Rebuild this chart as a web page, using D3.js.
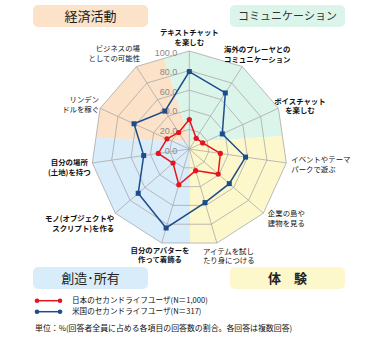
<!DOCTYPE html>
<html>
<head>
<meta charset="utf-8">
<script src="https://cdn.jsdelivr.net/npm/d3@7"></script>
<style>
  body { margin: 0; background: #fff; }
  svg { display: block; font-family: "Noto Sans CJK JP", sans-serif; }
</style>
</head>
<body>
<div id="chart"></div>
<script>
// axis labels, clockwise from the top
var categories = [
    ["テキストチャット", "を楽しむ"],
    ["海外のプレーヤとの", "コミュニケーション"],
    ["ボイスチャット", "を楽しむ"],
    ["イベントやテーマ", "パークで遊ぶ"],
    ["企業の島や", "建物を見る"],
    ["アイテムを試し", "たり身につける"],
    ["自分のアバターを", "作って着飾る"],
    ["モノ(オブジェクトや", "スクリプト)を作る"],
    ["自分の場所", "(土地)を持つ"],
    ["リンデン", "ドルを稼ぐ"],
    ["ビジネスの場", "としての可能性"]
];
var japan = [30, 13, 15, 32, 39, 23, 38, 22, 32, 25, 20];
var usa = [79, 68, 37, 58, 54, 57, 84, 69, 47, 62, 46];
var ticks = [0, 20, 40, 60, 80, 100];
var groups = ["経済活動", "コミュニケーション", "創造･所有", "体　験"];
var seriesNames = ["日本のセカンドライフユーザ(N＝1,000)", "米国のセカンドライフユーザ(N＝317)"];
var note = "単位：%(回答者全員に占める各項目の回答数の割合。各回答は複数回答)";

var width = 390, height = 342;
var cx = 189.3, cy = 149, radius = 98;
var red = "#e5141d", blue = "#1d4c8c";
var n = categories.length;

var svg = d3.select("#chart").append("svg")
    .attr("width", width)
    .attr("height", height);

var r = d3.scaleLinear().domain([0, 100]).range([0, radius]);
var angle = d3.scaleLinear().domain([0, n]).range([0, 2 * Math.PI]);

var g = svg.append("g").attr("transform", "translate(" + cx + "," + cy + ")");

function ring(v) {
    return d3.range(n).map(function(i) {
        var a = angle(i);
        return [r(v) * Math.sin(a), -r(v) * Math.cos(a)];
    });
}

// clip for the coloured backgrounds
svg.append("clipPath").attr("id", "outer")
    .append("polygon")
    .attr("points", ring(100).join(" "));

// background zones (screen coordinates relative to the centre)
var J = [190 - cx, 142 - cy];
var T = [150 - cx, 12 - cy], R = [300 - cx, 135 - cy],
    B = [190 - cx, 260 - cy], L = [80 - cx, 137 - cy];
var zones = [
    {fill: "#fbe2c9", pts: [J, L, [80 - cx, 12 - cy], T]},
    {fill: "#dcf5ea", pts: [J, T, [300 - cx, 12 - cy], R]},
    {fill: "#fdf8cb", pts: [J, R, [300 - cx, 260 - cy], B]},
    {fill: "#d9ecfa", pts: [J, B, [80 - cx, 260 - cy], L]}
];
var bg = g.append("g").attr("clip-path", "url(#outer)");
bg.selectAll("polygon").data(zones).enter().append("polygon")
    .attr("points", function(d) { return d.pts.join(" "); })
    .attr("fill", function(d) { return d.fill; });

// grid rings
g.selectAll(".ring").data(ticks.slice(1)).enter().append("polygon")
    .attr("class", "ring")
    .attr("points", function(d) { return ring(d).join(" "); })
    .attr("fill", "none")
    .attr("stroke", "#a9a9a9")
    .attr("stroke-width", 0.8);

// spokes
g.selectAll(".spoke").data(d3.range(n)).enter().append("line")
    .attr("class", "spoke")
    .attr("x2", function(i) { return r(100) * Math.sin(angle(i)); })
    .attr("y2", function(i) { return -r(100) * Math.cos(angle(i)); })
    .attr("stroke", "#a9a9a9")
    .attr("stroke-width", 0.8);

// tick labels
g.selectAll(".tick").data(ticks).enter().append("text")
    .attr("x", -12)
    .attr("y", function(d) { return -r(d) + 1.5; })
    .attr("dy", "0.35em")
    .attr("text-anchor", "end")
    .attr("font-family", "Liberation Sans, Arial, sans-serif")
    .attr("font-size", 9)
    .attr("fill", "#8a8a8a")
    .text(function(d) { return d.toFixed(1); });

// series
var line = d3.lineRadial()
    .angle(function(d, i) { return angle(i); })
    .radius(function(d) { return r(d); })
    .curve(d3.curveLinearClosed);

function pt(d, i) {
    return [r(d) * Math.sin(angle(i)), -r(d) * Math.cos(angle(i))];
}

g.append("path").datum(usa)
    .attr("d", line).attr("fill", "none")
    .attr("stroke", blue).attr("stroke-width", 1.5);
g.selectAll(".usa").data(usa).enter().append("rect")
    .attr("x", function(d, i) { return pt(d, i)[0] - 2.5; })
    .attr("y", function(d, i) { return pt(d, i)[1] - 2.5; })
    .attr("width", 5).attr("height", 5)
    .attr("fill", blue);

g.append("path").datum(japan)
    .attr("d", line).attr("fill", "none")
    .attr("stroke", red).attr("stroke-width", 1.5);
g.selectAll(".jp").data(japan).enter().append("circle")
    .attr("cx", function(d, i) { return pt(d, i)[0]; })
    .attr("cy", function(d, i) { return pt(d, i)[1]; })
    .attr("r", 2.6)
    .attr("fill", red);

// axis labels: anchor, dx, dy of first line, bold
var labelPos = [
    ["middle", 0, -18.5, true],
    ["middle", 15, -17, true],
    ["middle", 21.5, -7, true],
    ["start", 5, -3.5, false],
    ["start", 4.5, 0.5, false],
    ["start", -14, 8.2, false],
    ["middle", -1.7, 7.2, true],
    ["end", -1, 5.5, true],
    ["middle", -23, -0.5, true],
    ["end", -1, -8.8, false],
    ["end", 3.7, -17.8, false]
];
categories.forEach(function(lines, i) {
    var v = pt(100, i), p = labelPos[i];
    var t = g.append("text")
        .attr("text-anchor", p[0])
        .attr("font-size", 7.4)
        .attr("font-weight", p[3] ? "bold" : "normal")
        .attr("fill", "#111");
    lines.forEach(function(s, k) {
        t.append("tspan")
            .attr("x", v[0] + p[1])
            .attr("y", v[1] + p[2] + k * 9.6)
            .attr("dy", "0.35em")
            .text(s);
    });
});

// group title boxes
var boxes = [
    {x: 33, y: 5, fill: "#fbe2c9", size: 13, weight: "normal", color: "#222"},
    {x: 230, y: 5, fill: "#dcf5ea", size: 11, weight: "normal", color: "#333"},
    {x: 33, y: 267, fill: "#d9ecfa", size: 13, weight: "normal", color: "#222"},
    {x: 230, y: 267, fill: "#fdf8cb", size: 13, weight: "bold", color: "#222"}
];
boxes.forEach(function(b, i) {
    svg.append("rect")
        .attr("x", b.x).attr("y", b.y)
        .attr("width", 115).attr("height", 22)
        .attr("rx", 5)
        .attr("fill", b.fill);
    svg.append("text")
        .attr("x", b.x + 57.5).attr("y", b.y + 11.5)
        .attr("dy", "0.35em")
        .attr("text-anchor", "middle")
        .attr("font-size", b.size)
        .attr("font-weight", b.weight)
        .attr("fill", b.color)
        .text(groups[i]);
});

// legend
var legend = svg.append("g");
[red, blue].forEach(function(c, i) {
    var y = 300.7 + i * 11;
    legend.append("line")
        .attr("x1", 37).attr("x2", 60)
        .attr("y1", y).attr("y2", y)
        .attr("stroke", c).attr("stroke-width", 1.5);
    legend.selectAll(".m" + i).data([37, 60]).enter().append("circle")
        .attr("cx", function(d) { return d; })
        .attr("cy", y).attr("r", 2.3).attr("fill", c);
    legend.append("text")
        .attr("x", 72).attr("y", y)
        .attr("dy", "0.35em")
        .attr("font-size", 7.6)
        .attr("fill", "#111")
        .text(seriesNames[i]);
});

svg.append("text")
    .attr("x", 35).attr("y", 328.3)
    .attr("dy", "0.35em")
    .attr("font-size", 7.9)
    .attr("fill", "#111")
    .text(note);
</script>
</body>
</html>
